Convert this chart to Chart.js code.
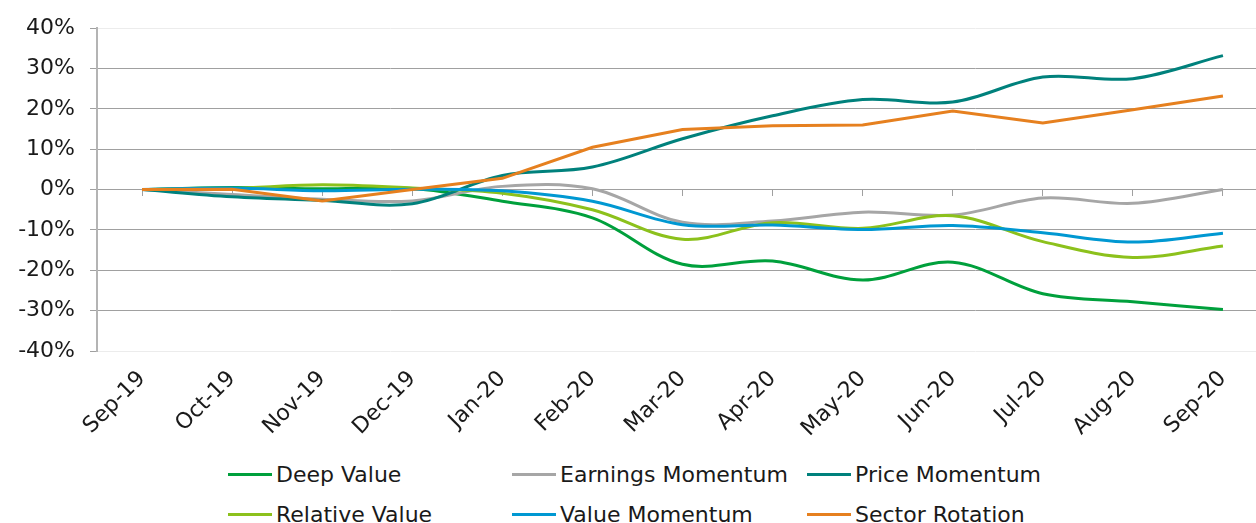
<!DOCTYPE html>
<html lang="en">
<head>
<meta charset="UTF-8">
<title>Strategy performance</title>
<script src="https://cdn.jsdelivr.net/npm/chart.js"></script>
<style>
body {
  margin: 0;
  background: #fff;
  overflow: hidden;
  font-family: "DejaVu Sans", Verdana, sans-serif;
}
.wrap {
  position: relative;
  width: 1270px;
  height: 523px;
}
#myChart {
  display: block;
}
#legend .item {
  position: absolute;
  display: flex;
  align-items: center;
  height: 26px;
  font-size: 22px;
  color: #1a1a1a;
  white-space: nowrap;
}
#legend .mark {
  display: inline-block;
  width: 44px;
  height: 3px;
  margin-right: 4px;
}
</style>
</head>
<body>

<div class="wrap">
  <canvas id="myChart" width="1270" height="450"></canvas>
  <div id="legend"></div>
</div>

<script>

// categorias (meses)
const categories = ['Sep-19', 'Oct-19', 'Nov-19', 'Dec-19', 'Jan-20', 'Feb-20', 'Mar-20',
                    'Apr-20', 'May-20', 'Jun-20', 'Jul-20', 'Aug-20', 'Sep-20'];

// series en %
const deepValue         = [0, 0.5, 0.2, 0.3, -2.9, -7.0, -18.5, -17.7, -22.4, -18.0, -25.8, -27.8, -29.7];
const earningsMomentum  = [0, -1.2, -2.4, -2.8, 0.8, 0.2, -8.1, -7.8, -5.6, -6.3, -2.1, -3.4, 0.0];
const priceMomentum     = [0, -1.8, -2.7, -3.5, 3.5, 5.6, 12.6, 18.3, 22.3, 21.7, 27.9, 27.5, 33.2];
const relativeValue     = [0, 0.3, 1.2, 0.4, -0.9, -5.0, -12.3, -8.2, -9.6, -6.5, -12.9, -16.8, -14.0];
const valueMomentum     = [0, 0.4, -0.3, 0.1, -0.3, -2.9, -8.7, -8.8, -9.9, -8.9, -10.7, -13.0, -10.8];
const sectorRotation    = [0, 0.1, -2.8, 0.0, 2.8, 10.5, 14.9, 15.8, 16.0, 19.5, 16.5, 19.8, 23.2];

// ticks eje y
const yTicks = [-40, -30, -20, -10, 0, 10, 20, 30, 40];

const seriesNames  = ['Deep Value', 'Earnings Momentum', 'Price Momentum', 'Relative Value', 'Value Momentum', 'Sector Rotation'];
const seriesData   = [deepValue, earningsMomentum, priceMomentum, relativeValue, valueMomentum, sectorRotation];
const seriesColors = ['#00a03c', '#a6a6a6', '#00817c', '#8cc11c', '#0098d2', '#e6801f'];
const smooth       = [true, true, true, true, true, false];

const datasets = seriesNames.map((name, i) => ({
  label: name,
  data: seriesData[i],
  borderColor: seriesColors[i],
  backgroundColor: seriesColors[i],
  borderWidth: 3,
  pointRadius: 0,
  fill: false,
  tension: smooth[i] ? 0.35 : 0,
  order: seriesNames.length - 1 - i,   // la ultima serie encima (como excel)
  xAxisID: 'x',
  yAxisID: 'y'
}));

const font = { family: '"DejaVu Sans", Verdana, sans-serif', size: 22 };

const config = {
  type: 'line',
  data: { labels: categories, datasets: datasets },
  options: {
    responsive: false,
    animation: false,
    devicePixelRatio: 1,
    layout: { padding: { top: 21, right: 2, left: 0, bottom: 0 } },
    plugins: {
      legend: { display: false },
      tooltip: { enabled: false }
    },
    scales: {
      x: {
        type: 'category',
        position: 'bottom',
        offset: true,
        grid: { display: false, drawTicks: false },
        border: { display: false },
        ticks: { font: font, color: '#1a1a1a', minRotation: 45, maxRotation: 45, padding: 15, autoSkip: false },
        afterFit: s => { s.height = 99; }
      },
      // eje en 0% con marcas de categoria
      x2: {
        axis: 'x',
        type: 'category',
        labels: categories,
        position: { y: 0 },
        offset: true,
        ticks: { display: false },
        grid: { drawOnChartArea: false, drawTicks: true, tickLength: 6, color: '#a0a0a0' },
        border: { display: true, color: '#a0a0a0', width: 1 }
      },
      y: {
        min: -40,
        max: 40,
        afterBuildTicks: s => { s.ticks = yTicks.map(v => ({ value: v })); },
        afterFit: s => { s.width = 97; },
        ticks: {
          font: font,
          color: '#1a1a1a',
          padding: 15,
          callback: v => v + '%'
        },
        grid: {
          color: c => (c.tick && Math.abs(c.tick.value) === 40) ? '#ececec' : '#a0a0a0',
          tickColor: '#a0a0a0',
          tickLength: 7,
          lineWidth: 1
        },
        border: { display: true, color: '#b4b4b4', width: 2 }
      }
    }
  }
};

const myChart = new Chart(document.getElementById('myChart'), config);

// leyenda html en 3 columnas
const legendLeft = [228, 512, 807];
const legendTop  = [461, 501];
let legendHtml = '';
seriesNames.forEach((name, i) => {
  const col = i % 3, row = Math.floor(i / 3);
  legendHtml += "<div class='item' style='left:" + legendLeft[col] + "px;top:" + legendTop[row] + "px'>" +
                "<span class='mark' style='background:" + seriesColors[i] + "'></span>" + name + "</div>";
});
document.getElementById('legend').innerHTML = legendHtml;

</script>

</body>
</html>
